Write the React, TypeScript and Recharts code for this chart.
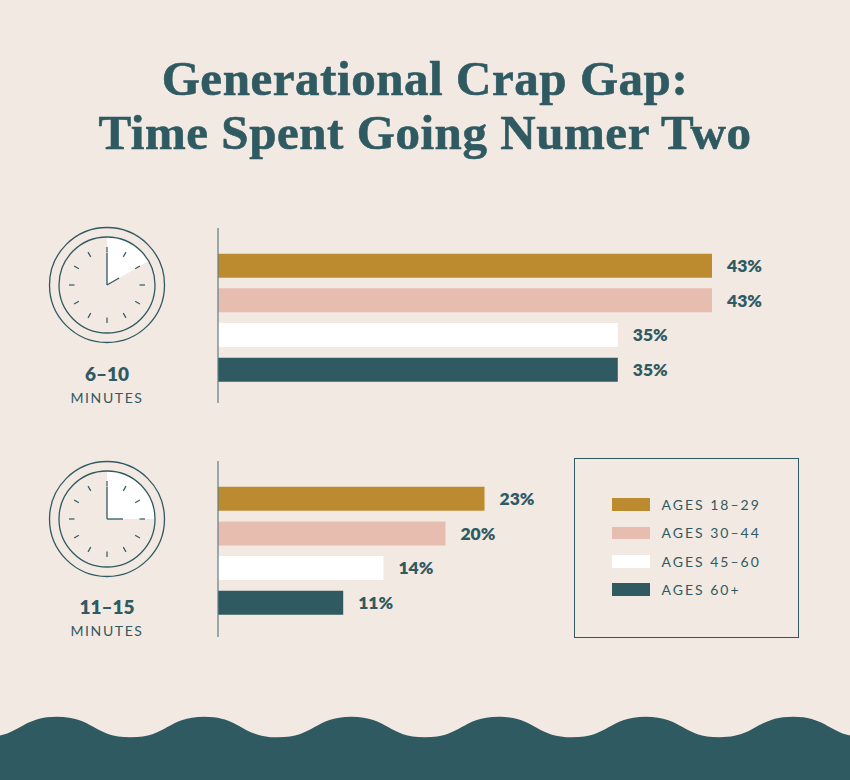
import React from "react";
import { BarChart, Bar, Cell, LabelList, XAxis, YAxis } from "recharts";

const AGE_GROUPS = ["AGES 18–29", "AGES 30–44", "AGES 45–60", "AGES 60+"];
const AGE_COLORS = ["#bd8b2f", "#e7bdb0", "#ffffff", "#2f5a62"];

// values, printed labels are these rounded
const SHARE_6_10 = [43, 43, 34.8, 34.8];
const SHARE_11_15 = [23.2, 19.8, 14.4, 10.9];

const TEAL = "#2f5a62";
const BG = "#f3e9e3";
const SANS = "Lato, 'Noto Sans', sans-serif";

const TICK_HOURS = [0, 1, 2, 3, 4, 5, 6, 7, 8, 9, 10, 11];

const polar = (cx: number, cy: number, r: number, minutes: number) => {
  const a = (minutes / 60) * 2 * Math.PI;
  return [cx + r * Math.sin(a), cy - r * Math.cos(a)];
};

const Clock: React.FC<{ minutes: number; minuteHand: number; hourHand: number; handAt: number }> = ({
  minutes,
  minuteHand,
  hourHand,
  handAt,
}) => {
  const c = 60;
  const [wx, wy] = polar(c, c, 48, minutes);
  const [hx, hy] = polar(c, c, hourHand, handAt);
  return (
    <svg width={120} height={120} style={{ display: "block" }}>
      <path d={`M${c} ${c}L${c} ${c - 48}A48 48 0 0 1 ${wx} ${wy}Z`} fill="#ffffff" />
      <circle cx={c} cy={c} r={57.5} fill="none" stroke={TEAL} strokeWidth={1.3} />
      <circle cx={c} cy={c} r={48} fill="none" stroke={TEAL} strokeWidth={1.3} />
      {TICK_HOURS.map((h) => {
        const [x1, y1] = polar(c, c, 32.5, h * 5);
        const [x2, y2] = polar(c, c, 38, h * 5);
        return <line key={h} x1={x1} y1={y1} x2={x2} y2={y2} stroke={TEAL} strokeWidth={1.2} />;
      })}
      <line x1={c} y1={c} x2={c} y2={c - minuteHand} stroke={TEAL} strokeWidth={1.3} />
      <line x1={c} y1={c} x2={hx} y2={hy} stroke={TEAL} strokeWidth={1.3} />
    </svg>
  );
};

const ShareChart: React.FC<{ values: number[]; top: number; height: number; padBottom: number }> = ({
  values,
  top,
  height,
  padBottom,
}) => {
  const data = AGE_GROUPS.map((name, i) => ({ name, share: values[i] }));
  return (
    <div style={{ position: "absolute", left: 216, top }}>
      <BarChart
        layout="vertical"
        width={640}
        height={height}
        data={data}
        margin={{ top: 0, right: 144, bottom: 0, left: 1 }}
      >
        <XAxis type="number" domain={[0, 43]} hide />
        <YAxis
          type="category"
          dataKey="name"
          width={1}
          tick={false}
          tickLine={false}
          axisLine={{ stroke: "#5f7d83", strokeWidth: 1.2 }}
          padding={{ top: 20.7, bottom: padBottom }}
        />
        <Bar dataKey="share" barSize={24} isAnimationActive={false}>
          {data.map((d, i) => (
            <Cell key={d.name} fill={AGE_COLORS[i]} />
          ))}
          <LabelList
            dataKey="share"
            position="right"
            offset={15}
            formatter={(v: any) => `${Math.round(v)}%`}
            style={{ fontFamily: SANS, fontWeight: 800, fontSize: 17.5, fill: TEAL }}
          />
        </Bar>
      </BarChart>
    </div>
  );
};

const ClockLabel: React.FC<{ range: string; top: number }> = ({ range, top }) => (
  <div style={{ position: "absolute", left: 47, width: 120, top, textAlign: "center", color: TEAL, fontFamily: SANS }}>
    <div style={{ fontWeight: 800, fontSize: 19, lineHeight: "22px" }}>{range}</div>
    <div style={{ fontSize: 14, letterSpacing: 1.6, lineHeight: "16px", marginTop: 5 }}>MINUTES</div>
  </div>
);

const wavePath = () => {
  // peak and trough every 73.6px
  const step = 73.6;
  const peak = 716.7;
  const trough = 737.3;
  let d = `M${57 - step * 2} 780L${57 - step * 2} ${peak}`;
  let x = 57 - step * 2;
  let up = true;
  while (x < 900) {
    const nx = x + step;
    d += `C${x + step * 0.5} ${up ? peak : trough} ${nx - step * 0.5} ${up ? trough : peak} ${nx} ${up ? trough : peak}`;
    x = nx;
    up = !up;
  }
  return d + `L${x} 780Z`;
};

export default function App() {
  return (
    <div style={{ position: "fixed", left: 0, top: 0, width: 850, height: 780, background: BG, overflow: "hidden" }}>
      <div
        style={{
          position: "absolute",
          left: 0,
          width: 850,
          top: 52,
          textAlign: "center",
          color: TEAL,
          fontFamily: "'Liberation Serif', serif",
          fontWeight: 700,
          fontSize: 49,
          lineHeight: "54px",
          letterSpacing: 0.55,
          WebkitTextStroke: `0.6px ${TEAL}`,
        }}
      >
        Generational Crap Gap:
        <br />
        Time Spent Going Numer Two
      </div>

      <div style={{ position: "absolute", left: 47, top: 225 }}>
        <Clock minutes={10} minuteHand={32} hourHand={14} handAt={10} />
      </div>
      <ClockLabel range="6–10" top={363} />
      <ShareChart values={SHARE_6_10} top={228} height={175} padBottom={15.7} />

      <div style={{ position: "absolute", left: 47, top: 459 }}>
        <Clock minutes={15} minuteHand={32} hourHand={16} handAt={15} />
      </div>
      <ClockLabel range="11–15" top={596} />
      <ShareChart values={SHARE_11_15} top={461} height={176} padBottom={16.5} />

      <div
        style={{
          position: "absolute",
          left: 574,
          top: 458,
          width: 223,
          height: 178,
          border: `1px solid ${TEAL}`,
        }}
      >
        {AGE_GROUPS.map((name, i) => (
          <div key={name} style={{ position: "absolute", left: 37, top: 39 + i * 28.4, display: "flex", alignItems: "center", height: 13 }}>
            <div style={{ width: 37.5, height: 12.5, background: AGE_COLORS[i] }} />
            <div style={{ marginLeft: 12, fontFamily: SANS, fontSize: 14, letterSpacing: 2, color: TEAL, whiteSpace: "nowrap" }}>
              {name}
            </div>
          </div>
        ))}
      </div>

      <svg width={850} height={780} style={{ position: "absolute", left: 0, top: 0, pointerEvents: "none" }}>
        <path d={wavePath()} fill={TEAL} />
      </svg>
    </div>
  );
}
